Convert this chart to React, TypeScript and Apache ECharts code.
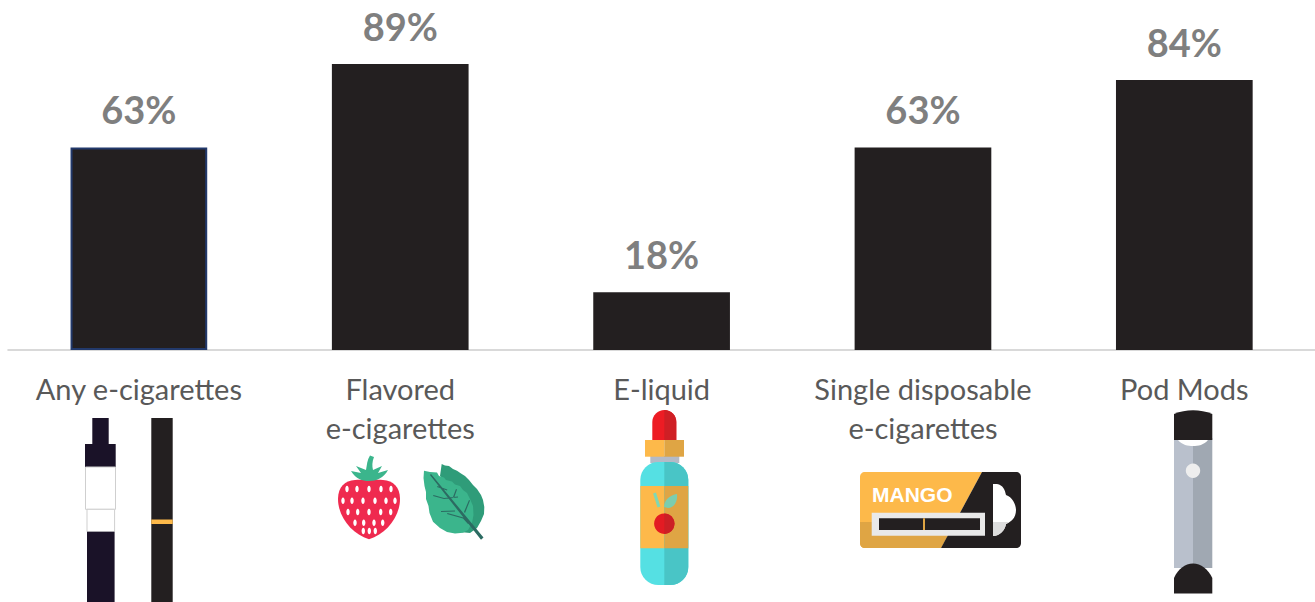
import React, { useEffect, useRef } from "react";
import * as echarts from "echarts";

const categories = ["Any e-cigarettes", "Flavored\ne-cigarettes", "E-liquid", "Single disposable\ne-cigarettes", "Pod Mods"];
const percentages = [63, 89, 18, 63, 84];

const INK = "#231f20";
const NAVY = "#1a1228";
const ORANGE = "#fdb94a";
const ORANGE_D = "#dfa544";

echarts.graphic.registerShape("strawberryBody", echarts.graphic.extendPath(
  "M369 539.3 C352 534 338 517 338 499 C338 487 345 480.5 355 480 C361 479.8 377 479.8 383 480 C393 480.5 400 487 400 499 C400 517 386 534 369 539.3 Z", {}));
echarts.graphic.registerShape("strawberryTop", echarts.graphic.extendPath(
  "M369 481 C362 481 356 479 351 471 L361 473 L356 466 L366 470 C367 465 367 460 370 455.5 L374 457 C372 462 372 466 373 470 L382 466 L378 473 L388 470 C384 478 376 481 369 481 Z", {}));
echarts.graphic.registerShape("mintLeaf", echarts.graphic.extendPath(
  "M424 470.7 L430 472 L437 472.5 L439 476 L444 477.5 L446 480 L452 481.5 L455 484.5 L460 486 L463 490 L467 493 L470 499 L473 506 L473.5 515 L472 523 L468 530 L463 532.7 L455 533.5 L447 532 L440 528 L433 521.7 L429.5 513 L428.5 506 L426 499 L426 492 L424.5 486 L423.5 478 Z", {}));
echarts.graphic.registerShape("mintShade", echarts.graphic.extendPath(
  "M441.7 464 L445 465.5 L449 466 L453 469 L457 470.7 L461 473.5 L465 476 L469 480 L473 485 L477 489 L481 495 L483 500 L484.3 507 L484 514 L481 521 L477 528 L470 533 L460 532 L465 515 L455 490 L440 476 Z", {}));
echarts.graphic.registerShape("mintVein", echarts.graphic.extendPath(
  "M430 475 L481 539.7 L483.5 537.5 L431 474 Z M437 487 L447 490.5 L447.3 489.5 L437.5 486 Z M433 496 L444 499 L458 497.5 L458 496.5 L444 498 L433.5 495 Z M447 514 L463 518.5 L468 524 L468.7 523.5 L463.5 517.5 L447.5 513 Z M441 512 L455 511.5 L455 510.5 L441 511 Z M453 497 L456 489 L457 489.5 L454 498 Z M464 512 L469 500 L470 500.5 L465 513 Z", {}));
echarts.graphic.registerShape("cardOrange", echarts.graphic.extendPath(
  "M865 472 L982 472 L941 548 L865 548 C862 548 860 546 860 543 L860 477 C860 474 862 472 865 472 Z", {}));
echarts.graphic.registerShape("cardOrangeLow", echarts.graphic.extendPath(
  "M860 522 L955 522 L941 548 L865 548 C862 548 860 546 860 543 Z", {}));
echarts.graphic.registerShape("cardBlack", echarts.graphic.extendPath(
  "M982 472 L1016 472 C1019 472 1021 474 1021 477 L1021 543 C1021 546 1019 548 1016 548 L941 548 Z", {}));
echarts.graphic.registerShape("cloud", echarts.graphic.extendPath(
  "M993 484 L997 484 C1003 485 1005 490 1006 495 C1012 497 1016 504 1016 510 C1016 518 1011 522 1006 524 C1005 530 1000 536 993 536 Z", {}));
echarts.graphic.registerShape("cloudLow", echarts.graphic.extendPath(
  "M993 522 L1009 522 L1006 524 C1005 530 1000 536 993 536 Z", {}));
echarts.graphic.registerShape("podTop", echarts.graphic.extendPath(
  "M1174 414 C1186 409 1200 409 1212.3 414 L1212.3 440 L1174 440 Z", {}));
echarts.graphic.registerShape("podBottom", echarts.graphic.extendPath(
  "M1174 578 C1178 569 1185 563.5 1193 563.5 C1201 563.5 1208 569 1212.3 578 L1212.3 593.5 L1174 593.5 Z", {}));
echarts.graphic.registerShape("podGlow", echarts.graphic.extendPath(
  "M1178 440 L1208 440 C1204 445 1198 446 1193 446 C1188 446 1182 445 1178 440 Z", {}));
echarts.graphic.registerShape("dropperTip", echarts.graphic.extendPath(
  "M652.3 440 L652.3 422 C652.3 415 658 410 664.3 410 C671 410 676.3 415 676.3 422 L676.3 440 Z", {}));
echarts.graphic.registerShape("dropperTipR", echarts.graphic.extendPath(
  "M664.3 440 L664.3 410 C671 410 676.3 415 676.3 422 L676.3 440 Z", {}));
echarts.graphic.registerShape("cherryLeaf", echarts.graphic.extendPath(
  "M664 507 C664 500 670 495 677 494 C678 501 674 508 668 508 Z", {}));

const seeds: number[][] = [
  [347, 489], [357, 489], [369, 489], [381, 489], [391, 489],
  [343, 500.7], [352, 500.7], [363, 500.7], [375, 500.7], [386, 500.7], [395, 500.7],
  [348, 512], [357.7, 512], [369, 512], [380.7, 512], [390.7, 512],
  [355, 522.7], [363.7, 522.7], [374, 522.7], [382.7, 522.7],
  [363.3, 531], [369.3, 531], [375.3, 531],
];

function rect(x: number, y: number, w: number, h: number, fill: string, extra: any = {}) {
  return { type: "rect", shape: { x, y, width: w, height: h, r: extra.r ?? 0 }, style: { fill, stroke: extra.stroke, lineWidth: extra.lw ?? 0 }, silent: true };
}
function shape(type: string, fill: string) {
  return { type, x: 0, y: 0, style: { fill }, silent: true };
}

const pens = [
  rect(92.3, 418, 16.4, 26, NAVY),
  rect(85, 444, 30.7, 23, NAVY),
  rect(85.5, 467, 30, 42.3, "#ffffff", { stroke: "#cfcfcf", lw: 1 }),
  rect(87, 509.3, 27.6, 22.4, "#ffffff", { stroke: "#cfcfcf", lw: 1 }),
  rect(87, 531.7, 27.6, 70.3, NAVY),
  rect(151.3, 418, 21.4, 184, INK),
  rect(151.3, 519.5, 21.4, 4.5, ORANGE),
];
const strawberry = [
  shape("strawberryBody", "#ef2a4f"),
  shape("strawberryTop", "#3bb58c"),
  ...seeds.map(([cx, cy]) => ({ type: "ellipse", shape: { cx, cy, rx: 1.7, ry: 3.2 }, style: { fill: "#ffffff" }, silent: true })),
];
const mint = [shape("mintShade", "#2f9c79"), shape("mintLeaf", "#3bb58c"), shape("mintVein", "#2c6b62")];
const bottle: any[] = [
  shape("dropperTip", "#ed1c24"), shape("dropperTipR", "#cf1f25"),
  rect(650.3, 456, 29, 7, "#b4bac6"),
  rect(640.3, 462, 48, 123, "#55e0e3", { r: 18 }),
  { type: "rect", shape: { x: 664.3, y: 462, width: 24, height: 123, r: [0, 18, 18, 0] }, style: { fill: "#49c5c6" }, silent: true },
  rect(640.3, 486, 24, 62.3, ORANGE), rect(664.3, 486, 24, 62.3, ORANGE_D),
  rect(645, 440, 19.3, 16.7, ORANGE), rect(664.3, 440, 19.7, 16.7, ORANGE_D),
  { type: "line", shape: { x1: 654.5, y1: 493, x2: 659, y2: 507 }, style: { stroke: "#7fd8b4", lineWidth: 3 }, silent: true },
  shape("cherryLeaf", "#7ccdaf"),
  { type: "circle", shape: { cx: 664.3, cy: 523.7, r: 10.2 }, style: { fill: "#e31b23" }, silent: true },
  { type: "sector", shape: { cx: 664.3, cy: 523.7, r: 10.2, r0: 0, startAngle: -Math.PI / 2, endAngle: Math.PI / 2 }, style: { fill: "#cc1f25" }, silent: true },
];
const card = [
  shape("cardOrange", ORANGE), shape("cardOrangeLow", ORANGE_D), shape("cardBlack", INK),
  rect(871.7, 512.7, 113.3, 23, "#e9e9e9"),
  rect(879, 518.3, 101, 11.7, INK),
  rect(923, 518.3, 2, 11.7, ORANGE_D),
  shape("cloud", "#ffffff"), shape("cloudLow", "#dddddd"),
  { type: "text", x: 872, y: 494, style: { text: "MANGO", fill: "#ffffff", font: "bold 21px 'Liberation Sans'", textAlign: "left", textVerticalAlign: "middle" }, silent: true },
];
const pod = [
  rect(1174, 438, 19.2, 130, "#b9c0cc"), rect(1193, 438, 19.3, 130, "#a0a8b2"),
  shape("podGlow", "#ffffff"),
  { type: "circle", shape: { cx: 1193, cy: 470.7, r: 7.2 }, style: { fill: "#eeeeee" }, silent: true },
  shape("podTop", INK), shape("podBottom", INK),
];

export default function App() {
  const ref = useRef<HTMLDivElement>(null);
  useEffect(() => {
    const chart = echarts.init(ref.current!, undefined, { renderer: "svg" });
    chart.setOption({
      animation: false,
      backgroundColor: "#ffffff",
      grid: { left: 8.2, width: 1308.8, top: 28.7, height: 321.3, containLabel: false },
      xAxis: {
        type: "category",
        data: categories,
        axisLine: { lineStyle: { color: "#d9d9d9", width: 2 } },
        axisTick: { show: false },
        axisLabel: {
          interval: 0,
          margin: 27,
          color: "#595959",
          fontFamily: "Lato",
          fontSize: 29,
          lineHeight: 39,
          verticalAlign: "top",
          padding: [-8, 0, 0, 0],
        },
      },
      yAxis: { type: "value", min: 0, max: 100, show: false, splitLine: { show: false } },
      series: [
        {
          type: "bar",
          barWidth: "52.3%",
          data: percentages.map((value, i) =>
            i === 0 ? { value, itemStyle: { borderColor: "#22396b", borderWidth: 2 } } : value
          ),
          itemStyle: { color: INK },
          label: {
            show: true,
            position: "top",
            distance: 19.5,
            formatter: "{c}%",
            color: "#7f7f7f",
            fontFamily: "Lato",
            fontWeight: "bold",
            fontSize: 38,
          },
        },
      ],
      graphic: { elements: [...pens, ...strawberry, ...mint, ...bottle, ...card, ...pod] },
    });
    return () => chart.dispose();
  }, []);
  return <div ref={ref} style={{ position: "absolute", left: 0, top: 0, width: 1315, height: 602 }} />;
}
